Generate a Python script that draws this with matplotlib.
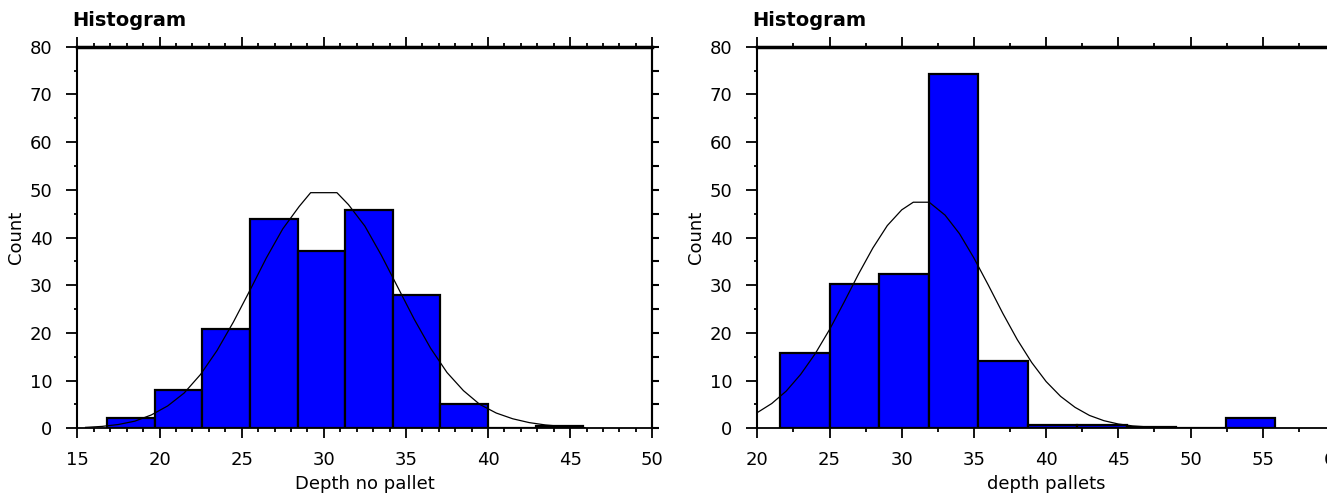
import matplotlib
matplotlib.use("Agg")
import matplotlib.pyplot as plt
import numpy as np
from matplotlib.ticker import MultipleLocator

# dati
left_edges = [16.8, 19.7, 22.6, 25.5, 28.4, 31.3, 34.2, 37.1, 40.0, 42.9, 45.8]
left_counts = [2.1, 8.0, 20.8, 43.9, 37.1, 45.7, 28.0, 5.0, 0.0, 0.5]
left_curve_x = [15.5, 16.5, 17.5, 18.5, 19.5, 20.5, 21.5, 22.5, 23.5, 24.5, 25.5,
                26.5, 27.5, 28.5, 29.2, 30.8, 31.5, 32.5, 33.5, 34.5, 35.5, 36.5,
                37.5, 38.5, 39.5, 40.5, 41.5, 42.5, 43.5, 44.5, 45.5, 45.9]
left_curve_y = [0.2, 0.4, 0.8, 1.5, 2.8, 4.7, 7.4, 11.3, 16.3, 22.3, 28.9,
                35.7, 41.8, 46.5, 49.4, 49.4, 46.9, 42.4, 36.3, 29.6, 22.9, 16.8,
                11.7, 7.9, 5.0, 3.2, 2.0, 1.2, 0.7, 0.4, 0.2, 0.15]

right_edges = [21.57, 25.00, 28.43, 31.86, 35.29, 38.72, 42.15, 45.58, 49.01, 52.44, 55.87]
right_counts = [15.7, 30.2, 32.3, 74.3, 14.1, 0.6, 0.6, 0.3, 0.0, 2.1]
right_curve_x = [20, 21, 22, 23, 24, 25, 26, 27, 28, 29, 30, 30.8, 31.9, 33, 34,
                 35, 36, 37, 38, 39, 40, 41, 42, 43, 44, 45, 46, 47, 47.5]
right_curve_y = [3.3, 5.2, 7.8, 11.3, 15.6, 20.7, 26.4, 32.3, 37.8, 42.5, 45.8,
                 47.4, 47.4, 44.7, 40.8, 35.7, 30.0, 24.1, 18.6, 13.8, 9.8, 6.7,
                 4.4, 2.7, 1.6, 0.9, 0.5, 0.3, 0.2]

fig = plt.figure(figsize=(13.27, 4.97), dpi=100)
plt.rcParams['font.family'] = ['DejaVu Sans']


def draw_hist(rect, edges, counts, cx, cy, xlim, xmajor, xminor, xlabel):
    ax = fig.add_axes(rect)
    edges = np.array(edges)
    ax.bar(edges[:-1], counts, width=np.diff(edges), align='edge',
           color='#0000ff', edgecolor='black', linewidth=1.6, zorder=2)
    ax.plot(cx, cy, color='black', linewidth=0.9, zorder=3)
    ax.set_xlim(*xlim)
    ax.set_ylim(0, 80)
    ax.xaxis.set_major_locator(MultipleLocator(xmajor))
    ax.xaxis.set_minor_locator(MultipleLocator(xminor))
    ax.yaxis.set_major_locator(MultipleLocator(10))
    ax.yaxis.set_minor_locator(MultipleLocator(5))
    ax.tick_params(axis='x', which='major', direction='out', length=7, width=1.3,
                   top=True, labelsize=13, pad=9)
    ax.tick_params(axis='x', which='minor', direction='out', length=3, width=1.3, top=True)
    ax.tick_params(axis='y', which='major', direction='out', length=8, width=1.3,
                   right=False, labelsize=13, pad=10)
    ax.tick_params(axis='y', which='minor', direction='out', length=2.5, width=1.3, right=False)
    for s in ['left', 'right']:
        ax.spines[s].set_linewidth(1.5)
    ax.spines['bottom'].set_linewidth(1.3)
    ax.spines['top'].set_linewidth(2.5)
    # tacche sul lato destro ogni 5
    sec = ax.secondary_yaxis('right')
    sec.yaxis.set_major_locator(MultipleLocator(5))
    sec.tick_params(direction='out', length=5, width=1.5, labelright=False)
    sec.spines['right'].set_linewidth(1.5)
    ax.set_xlabel(xlabel, fontsize=13, labelpad=5)
    ax.set_ylabel('Count', fontsize=13, labelpad=3)
    fig.text(rect[0] - 0.004, 0.958, 'Histogram', fontsize=14, fontweight='bold',
             ha='left', va='center')
    return ax


draw_hist([0.0583, 0.1382, 0.4333, 0.7678], left_edges, left_counts,
          left_curve_x, left_curve_y, (15, 50), 5, 1, 'Depth no pallet')
draw_hist([0.5707, 0.1382, 0.4353, 0.7678], right_edges, right_counts,
          right_curve_x, right_curve_y, (20, 60), 5, 2.5, 'depth pallets')

plt.savefig('out.png', dpi=100)
